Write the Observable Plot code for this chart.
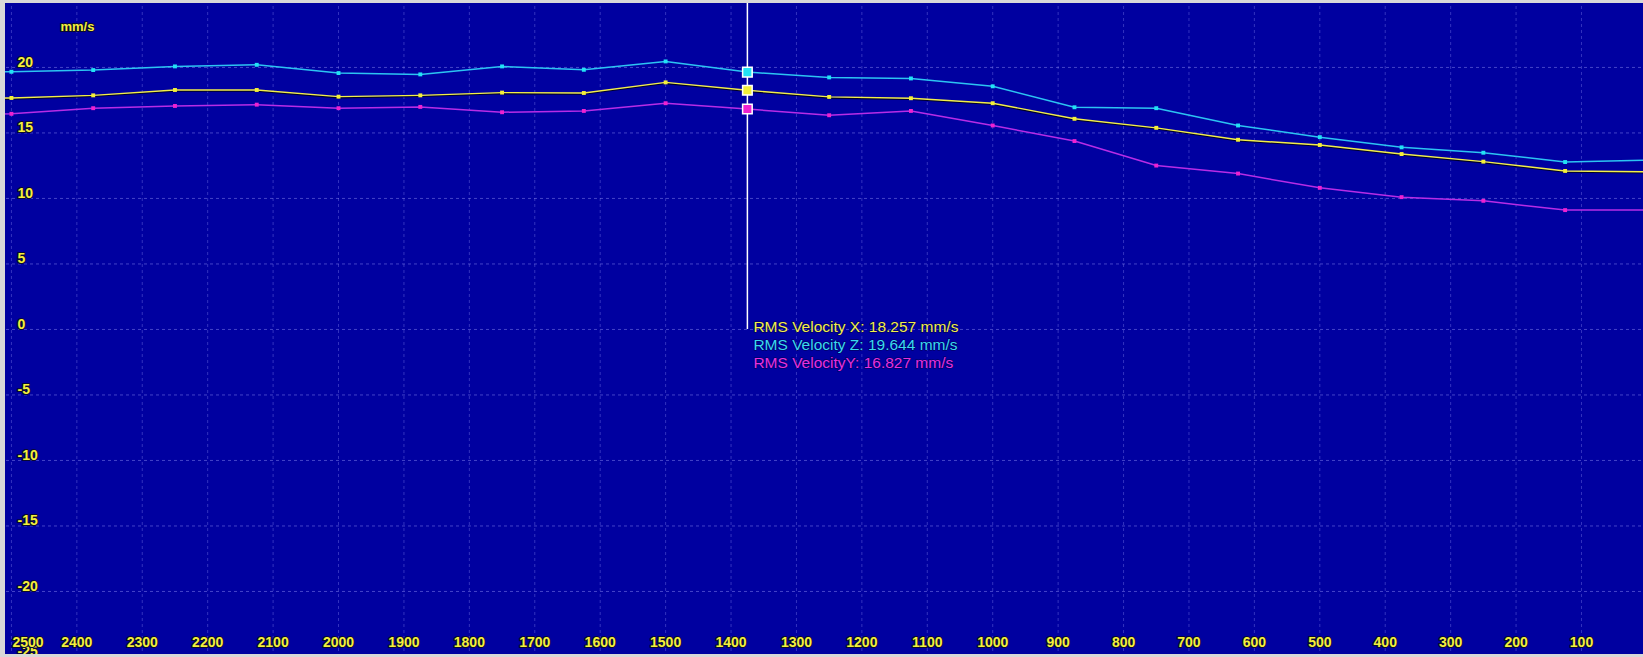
<!DOCTYPE html>
<html><head><meta charset="utf-8">
<script src="https://cdn.jsdelivr.net/npm/d3@7"></script>
<script src="https://cdn.jsdelivr.net/npm/@observablehq/plot@0.6"></script>
<style>
html,body{margin:0;padding:0;background:#d8d8d8;}
#wrap{position:relative;width:1643px;height:657px;overflow:hidden;}
#wrap svg{display:block;}
.edge{position:absolute;background:#d8d8d8;}
</style></head><body><div id="wrap"></div>
<script>
// frequency / depth axis positions (reversed axis, 2500 at left)
const depth = [2625, 2500, 2375, 2250, 2125, 2000, 1875, 1750, 1625, 1500, 1375, 1250, 1125, 1000, 875, 750, 625, 500, 375, 250, 125, 0];
// RMS Velocity Z (cyan)
const velZ = [19.67, 19.67, 19.80, 20.08, 20.20, 19.57, 19.47, 20.08, 19.82, 20.46, 19.644, 19.24, 19.16, 18.56, 16.96, 16.89, 15.57, 14.68, 13.90, 13.49, 12.78, 12.92];
// RMS Velocity X (yellow)
const velX = [17.65, 17.67, 17.87, 18.28, 18.28, 17.77, 17.87, 18.08, 18.05, 18.86, 18.257, 17.75, 17.65, 17.27, 16.08, 15.39, 14.48, 14.08, 13.39, 12.81, 12.10, 12.03];
// RMS Velocity Y (magenta)
const velY = [16.40, 16.46, 16.89, 17.06, 17.16, 16.89, 16.99, 16.58, 16.68, 17.27, 16.827, 16.35, 16.68, 15.57, 14.38, 12.51, 11.90, 10.81, 10.10, 9.82, 9.11, 9.11];

const xTicks = [2500, 2400, 2300, 2200, 2100, 2000, 1900, 1800, 1700, 1600, 1500, 1400, 1300, 1200, 1100, 1000, 900, 800, 700, 600, 500, 400, 300, 200, 100];
const yTicks = [20, 15, 10, 5, 0, -5, -10, -15, -20, -25];
const unitLabel = "mm/s";
const cursorAt = 1375;
const tipLabels = ["RMS Velocity X: 18.257 mm/s", "RMS Velocity Z: 19.644 mm/s", "RMS VelocityY: 16.827 mm/s"];

const cX = "#f2ee4a", cZ = "#2cc4f2", cY = "#b82ce6";
const mX = "#f4f03a", mZ = "#22e2f4", mY = "#ee22d0";
const tipColors = [cX, "#3ad8f0", "#e630e0"];

const rows = depth.map((d, i) => ({depth: d, x: velX[i], z: velZ[i], y: velY[i]}));
const visible = rows.filter(d => d.depth >= 125 && d.depth <= 2500 && d.depth !== cursorAt);
const cursorRow = rows.filter(d => d.depth === cursorAt);

const tickStyle = {fill: "#f4f03c", stroke: "#0a0a30", strokeWidth: 2.2, paintOrder: "stroke", fontWeight: "bold", fontSize: 14};
const gridH = {stroke: "#a0a0ff", strokeOpacity: 0.42, strokeWidth: 1, strokeDasharray: "3,3"};
const gridV = {stroke: "#a0a0ff", strokeOpacity: 0.32, strokeWidth: 1, strokeDasharray: "3,3"};

const chart = Plot.plot({
  width: 1643, height: 657, margin: 0,
  style: {background: "transparent", overflow: "hidden", fontFamily: "'Liberation Sans', Arial, sans-serif"},
  x: {domain: [2516.7, 5.2], axis: null},
  y: {domain: [-25.04, 25.11], axis: null},
  marks: [
    Plot.frame({fill: "#0000a0", stroke: null}),
    Plot.ruleX(xTicks, gridV),
    Plot.ruleY(yTicks, gridH),
    // lines
    Plot.line(rows, {x: "depth", y: "z", stroke: cZ, strokeWidth: 1.5, clip: true}),
    Plot.line(rows, {x: "depth", y: "x", stroke: "#000", strokeOpacity: 0.75, strokeWidth: 1.5, dy: 1, clip: true}),
    Plot.line(rows, {x: "depth", y: "x", stroke: cX, strokeWidth: 1.4, clip: true}),
    Plot.line(rows, {x: "depth", y: "y", stroke: cY, strokeWidth: 1.5, clip: true}),
    // point markers
    Plot.dot(visible, {x: "depth", y: "z", symbol: "square", r: 2.2, fill: mZ, stroke: null}),
    Plot.dot(visible, {x: "depth", y: "x", symbol: "square", r: 2.2, fill: mX, stroke: null}),
    Plot.dot(visible, {x: "depth", y: "y", symbol: "square", r: 2.2, fill: mY, stroke: null}),
    // cursor
    Plot.ruleX([cursorAt], {y1: 0, y2: 25.11, stroke: "#ffffff", strokeWidth: 1.5, insetBottom: 4}),
    Plot.dot(cursorRow, {x: "depth", y: "z", symbol: "square", r: 5.4, fill: mZ, stroke: "#fff", strokeWidth: 1.5}),
    Plot.dot(cursorRow, {x: "depth", y: "x", symbol: "square", r: 5.4, fill: mX, stroke: "#fff", strokeWidth: 1.5}),
    Plot.dot(cursorRow, {x: "depth", y: "y", symbol: "square", r: 5.4, fill: mY, stroke: "#fff", strokeWidth: 1.5}),
    // tooltip
    ...tipLabels.map((t, i) => Plot.text([t], {x: () => cursorAt, y: () => 0, text: d => d, textAnchor: "start", lineAnchor: "middle", dx: 6, dy: -2 + i * 18, fill: tipColors[i], stroke: "#000040", strokeOpacity: 0.6, strokeWidth: 1.5, paintOrder: "stroke", fontSize: 15.5})),
    // tick labels
    Plot.text(yTicks, {y: d => d, text: d => String(d), frameAnchor: "left", textAnchor: "start", lineAnchor: "middle", dx: 17, dy: -5, ...tickStyle}),
    Plot.text(xTicks.filter(d => d !== 2500), {x: d => d, text: d => String(d), frameAnchor: "bottom", lineAnchor: "middle", dy: -14.5, ...tickStyle}),
    Plot.text(xTicks.filter(d => d === 2500), {x: d => d, text: d => String(d), frameAnchor: "bottom", textAnchor: "start", lineAnchor: "middle", dx: 1, dy: -14.5, ...tickStyle}),
    Plot.text([unitLabel], {text: d => d, frameAnchor: "top-left", textAnchor: "start", lineAnchor: "middle", dx: 60, dy: 26, ...tickStyle, fontSize: 13})
  ]
});
const wrap = document.getElementById("wrap");
wrap.appendChild(chart);
for (const s of ["left:0;top:0;width:1643px;height:3px", "left:0;top:0;width:5px;height:657px", "left:0;top:654px;width:1643px;height:3px"]) {
  const e = document.createElement("div"); e.className = "edge"; e.style.cssText = s; wrap.appendChild(e);
}
</script></body></html>
